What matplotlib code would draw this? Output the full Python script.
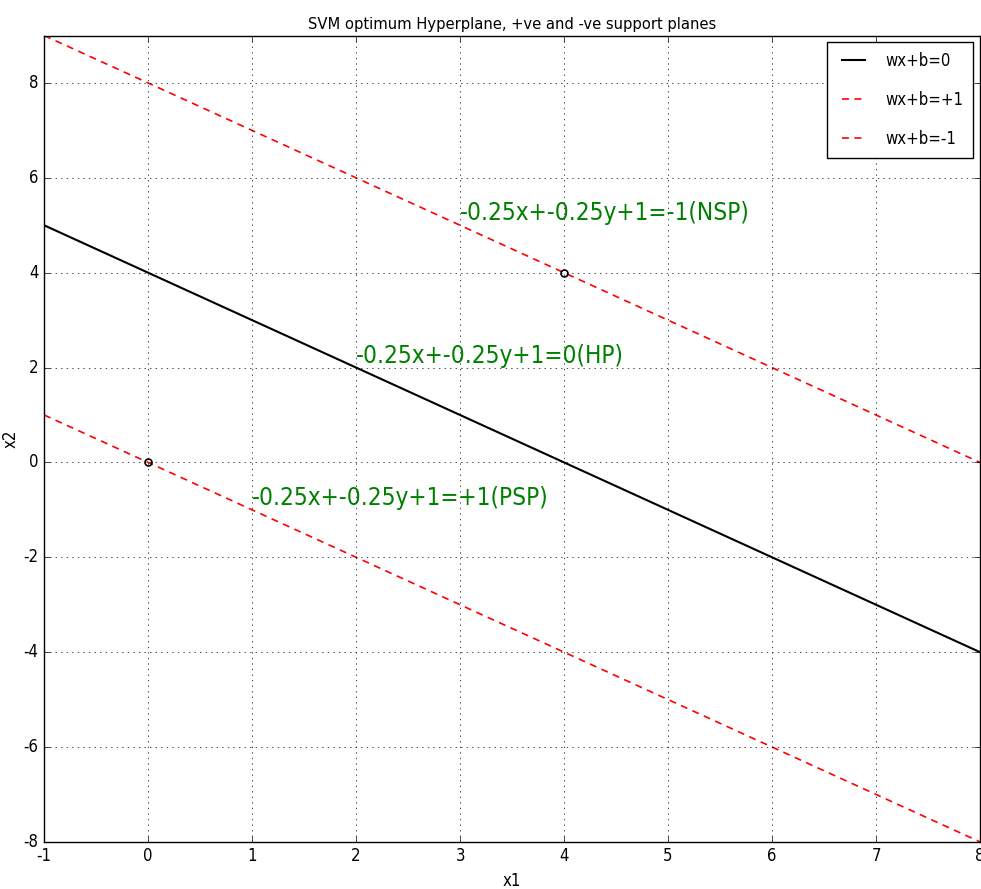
import numpy as np
import matplotlib
matplotlib.use("Agg")
import matplotlib.pyplot as plt

# data: x range, weights and bias of the hyperplane
x_vals = np.array([-1, 8])
w = [-0.25, -0.25]
b = 1
support_x = [0, 4]
support_y = [0, 4]

# labels
labels = ["wx+b=0", "wx+b=+1", "wx+b=-1"]
notes = ["-0.25x+-0.25y+1=-1(NSP)", "-0.25x+-0.25y+1=0(HP)", "-0.25x+-0.25y+1=+1(PSP)"]
note_x = [3, 2, 1]
note_y = [5, 2, -1]

plt.style.use("classic")
plt.rcParams["font.stretch"] = "condensed"
plt.rcParams["axes.unicode_minus"] = False
fig = plt.figure(figsize=(9.81, 8.89), dpi=100)
ax = fig.add_axes([0.045, 0.053, 0.954, 0.907])

def hyper(x, v):
    # w0*x + w1*y + b = v  ->  y
    return (v - b - w[0] * x) / w[1]

ax.plot(x_vals, hyper(x_vals, 0), "k-", lw=1.5, label=labels[0])
ax.plot(x_vals, hyper(x_vals, 1), "r--", lw=1.2, dashes=(5, 4), label=labels[1])
ax.plot(x_vals, hyper(x_vals, -1), "r--", lw=1.2, dashes=(5, 4), label=labels[2])
ax.plot(support_x, support_y, "o", mfc="none", mec="k", ms=5, mew=1.2)

for t, xx, yy in zip(notes, note_x, note_y):
    ax.text(xx, yy, t, color="green", fontsize=17.5, va="bottom", ha="left")

ax.set_xlim(-1, 8)
ax.set_ylim(-8, 9)
ax.set_yticks(np.arange(-8, 9, 2))
ax.grid(True)
ax.set_xlabel("x1", fontsize=12)
ax.set_ylabel("x2", fontsize=12)
ax.yaxis.set_label_coords(-0.026, 0.5)
ax.set_title("SVM optimum Hyperplane, +ve and -ve support planes", fontsize=11.8)
ax.tick_params(labelsize=12)
ax.legend(loc="upper right", fontsize=12, labelspacing=1.25, handlelength=2.0,
          borderpad=0.6, handletextpad=0.9, borderaxespad=0.4)

fig.savefig("out.png", dpi=100)
